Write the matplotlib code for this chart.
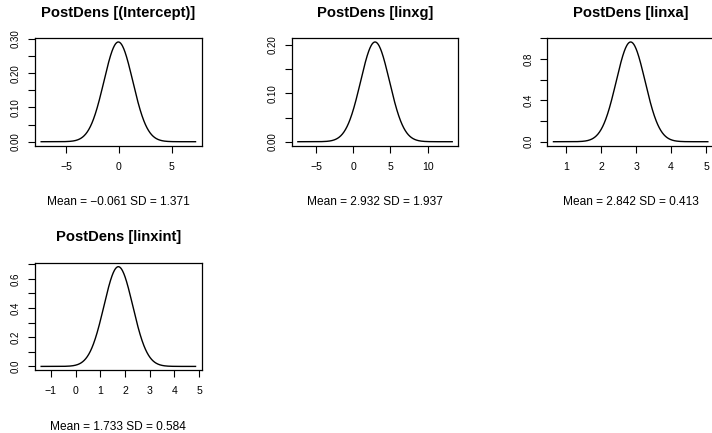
import numpy as np
import matplotlib
matplotlib.use("Agg")
import matplotlib.pyplot as plt

plt.rcParams["font.family"] = ["Liberation Sans", "DejaVu Sans"]

# Posterior summaries of the fixed effects
params = ["(Intercept)", "linxg", "linxa", "linxint"]
post_mean = [-0.061, 2.932, 2.842, 1.733]
post_sd = [1.371, 1.937, 0.413, 0.584]

# Axis ticks per panel (labels on every other y tick)
x_ticks = [[-5, 0, 5], [-5, 0, 5, 10], [1, 2, 3, 4, 5], [-1, 0, 1, 2, 3, 4, 5]]
y_ticks = [
    [0.00, 0.05, 0.10, 0.15, 0.20, 0.25, 0.30],
    [0.00, 0.05, 0.10, 0.15, 0.20],
    [0.0, 0.2, 0.4, 0.6, 0.8, 1.0],
    [0.0, 0.1, 0.2, 0.3, 0.4, 0.5, 0.6, 0.7],
]
y_decimals = [2, 2, 1, 1]

W, H = 712, 433
fig = plt.figure(figsize=(W / 100, H / 100), dpi=100)
fig.patch.set_facecolor("white")

# panel boxes in pixels: (left, top)
box_pos = [(35, 38), (291.7, 38), (547.3, 38), (35, 262.7)]
box_w, box_h = 166.7, 107.7

XTICK_FS = 7.6
YTICK_FS = 7.0
SUB_FS = 8.6
TITLE_FS = 10.6


def fmt(v, nd=None):
    s = f"{v:.{nd}f}" if nd is not None else f"{v:g}"
    return s.replace("-", "\u2212")


for i, name in enumerate(params):
    left, top = box_pos[i]
    ax = fig.add_axes([left / W, 1 - (top + box_h) / H, box_w / W, box_h / H])
    m, s = post_mean[i], post_sd[i]
    x = np.linspace(m - 5.35 * s, m + 5.35 * s, 500)
    y = np.exp(-0.5 * ((x - m) / s) ** 2) / (s * np.sqrt(2 * np.pi))
    ax.plot(x, y, color="black", lw=1.0)

    xr = x.max() - x.min()
    yr = y.max() - y.min()
    ax.set_xlim(x.min() - 0.04 * xr, x.max() + 0.04 * xr)
    ax.set_ylim(y.min() - 0.04 * yr, y.max() + 0.04 * yr)

    ax.set_xticks(x_ticks[i])
    ax.set_xticklabels([fmt(v) for v in x_ticks[i]], fontsize=XTICK_FS)
    ax.set_yticks(y_ticks[i])
    ax.set_yticklabels(
        [fmt(v, y_decimals[i]) if k % 2 == 0 else "" for k, v in enumerate(y_ticks[i])],
        fontsize=YTICK_FS, rotation=90, va="center")
    ax.tick_params(axis="both", direction="out", length=5, width=0.8, colors="black")
    ax.tick_params(axis="x", pad=6.4)
    ax.tick_params(axis="y", pad=5.2)
    for sp in ax.spines.values():
        sp.set_linewidth(0.9)
        sp.set_color("black")

    cx = (left + box_w / 2) / W
    fig.text(cx, 1 - (top - 21.3) / H, f"PostDens [{name}]", ha="center",
             va="baseline", fontsize=TITLE_FS, fontweight="bold")
    fig.text(cx, 1 - (top + box_h + 59.3) / H,
             f"Mean = {fmt(m, 3)} SD = {fmt(s, 3)}", ha="center",
             va="baseline", fontsize=SUB_FS)

fig.savefig("out.png", dpi=100)
